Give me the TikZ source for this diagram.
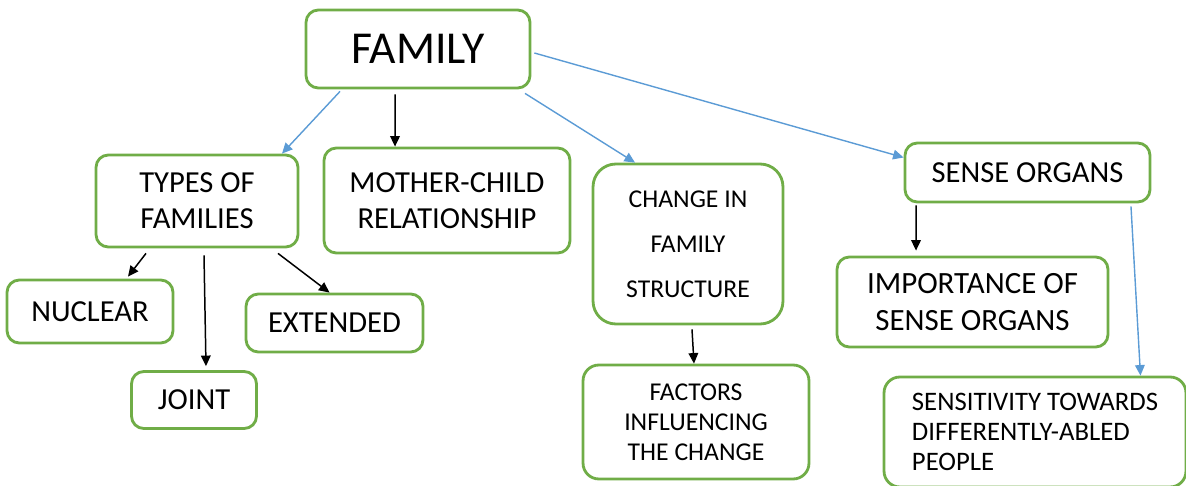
\documentclass[tikz,border=0pt]{standalone}
\usepackage{fontspec}
\setmainfont{Carlito}
\usetikzlibrary{arrows.meta}
\definecolor{verde}{HTML}{70AD47}
\definecolor{azzurro}{HTML}{5B9BD5}

\begin{document}
\begin{tikzpicture}[x=0.02cm, y=-0.02cm, >={Triangle[length=6pt,width=5.5pt]},
			box/.style={draw=verde, line width=1.6pt, rounded corners=7pt, inner sep=0pt,
				align=center, font=\fontsize{17.4}{20.6}\selectfont},
			freccia/.style={->, line width=0.85pt, black},
			frecciablu/.style={->, line width=0.8pt, azzurro}]
			
			\useasboundingbox (0,0) rectangle (1186,486);
			
			% Nodi principali
			\node[box, minimum width=4.48cm, minimum height=1.56cm, font=\fontsize{26}{30}\selectfont] (fam) at (418,49) {FAMILY};
			\node[box, minimum width=4.04cm, minimum height=1.84cm] (types) at (197,201) {TYPES OF\\FAMILIES};
			\node[box, minimum width=4.92cm, minimum height=2.10cm] (mother) at (447,200.5) {MOTHER-CHILD\\RELATIONSHIP};
			\node[box, minimum width=3.80cm, minimum height=3.20cm, rounded corners=13pt,
				font=\fontsize{14.6}{25.5}\selectfont] (change) at (688,244) {CHANGE IN\\FAMILY\\STRUCTURE};
			\node[box, minimum width=4.90cm, minimum height=1.18cm] (sense) at (1027.5,172.5) {SENSE ORGANS};
			
			% Sotto TYPES OF FAMILIES
			\node[box, minimum width=3.32cm, minimum height=1.26cm] (nuclear) at (90,311.5) {NUCLEAR};
			\node[box, minimum width=2.50cm, minimum height=1.14cm] (joint) at (194,400) {JOINT};
			\node[box, minimum width=3.54cm, minimum height=1.16cm] (extended) at (334.5,323) {EXTENDED};
			
			% Sotto CHANGE e SENSE ORGANS
			\node[box, minimum width=4.52cm, minimum height=2.28cm, rounded corners=9pt,
				font=\fontsize{14.6}{17}\selectfont] (factors) at (696,422) {FACTORS\\INFLUENCING\\THE CHANGE};
			\node[box, minimum width=5.42cm, minimum height=1.80cm, font=\fontsize{17.6}{20.6}\selectfont] (importance) at (972.5,302) {IMPORTANCE OF\\SENSE ORGANS};
			\node[box, minimum width=6.04cm, minimum height=2.20cm, rounded corners=9pt, align=left,
				font=\fontsize{15.2}{17}\selectfont] (sensitivity) at (1035,432) {SENSITIVITY TOWARDS\\DIFFERENTLY-ABLED\\PEOPLE};
			
			% --- Frecce da FAMILY ---
			\draw[frecciablu] ([xshift=-1.56cm, yshift=-0.04cm]fam.south) -- ([xshift=1.70cm]types.north);
			\draw[freccia] ([xshift=-0.46cm, yshift=-0.1cm]fam.south) -- ([xshift=-1.04cm]mother.north);
			\draw[frecciablu] ([xshift=2.14cm, yshift=-0.08cm]fam.south) -- ([xshift=-1.06cm]change.north);
			\draw[frecciablu] ([xshift=0.06cm, yshift=-0.08cm]fam.east) -- ([yshift=0.3cm]sense.west);
			
			% --- Frecce da TYPES OF FAMILIES ---
			\draw[freccia] ([xshift=-1.02cm, yshift=-0.1cm]types.south) -- ([xshift=0.76cm, yshift=0.04cm]nuclear.north);
			\draw[freccia] ([xshift=0.14cm, yshift=-0.14cm]types.south) -- ([xshift=0.24cm, yshift=0.08cm]joint.north);
			\draw[freccia] ([xshift=1.62cm, yshift=-0.1cm]types.south) -- ([xshift=-0.1cm]extended.north);
			
			% --- Altre frecce ---
			\draw[freccia] ([xshift=0.08cm, yshift=-0.08cm]change.south) -- ([xshift=-0.04cm]factors.north);
			\draw[freccia] ([xshift=-2.23cm, yshift=-0.04cm]sense.south) -- ([xshift=-1.13cm, yshift=0.1cm]importance.north);
			\draw[frecciablu] ([xshift=2.07cm, yshift=-0.06cm]sense.south) -- ([xshift=2.11cm]sensitivity.north);
		\end{tikzpicture}
\end{document}
